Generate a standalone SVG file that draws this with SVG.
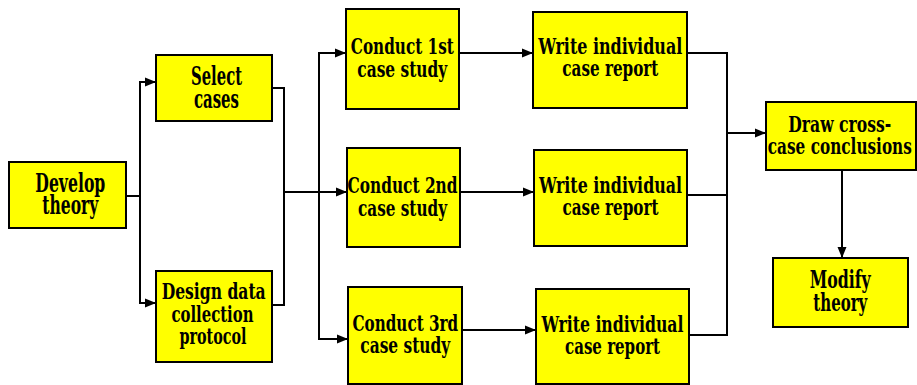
<svg xmlns="http://www.w3.org/2000/svg" width="917" height="385" viewBox="0 0 917 385">
<style>
.box{fill:#ffff00;stroke:#000;stroke-width:2}
.t{font-family:"DejaVu Serif Condensed","DejaVu Serif","Liberation Serif",serif;font-weight:bold;font-stretch:condensed;font-size:23px;fill:#000;text-anchor:middle}
.big{font-size:26px}
.c{fill:none;stroke:#000;stroke-width:2}
</style>
<defs>
<marker id="ah" markerUnits="userSpaceOnUse" markerWidth="11" markerHeight="10" refX="11" refY="5" orient="auto">
<path d="M0,0.5 L11,5 L0,9.5 Z" fill="#000"/>
</marker>
</defs>
<rect width="917" height="385" fill="#fff"/>
<g id="connectors">
<path class="c" d="M126,196 H140 V82 H156" marker-end="url(#ah)"/>
<path class="c" d="M140,196 V303 H156" marker-end="url(#ah)"/>
<path class="c" d="M272,88 H284 V305 H272"/>
<path class="c" d="M284,192 H347" marker-end="url(#ah)"/>
<path class="c" d="M319,192 V53 H346" marker-end="url(#ah)"/>
<path class="c" d="M319,192 V339 H348" marker-end="url(#ah)"/>
<path class="c" d="M459,53 H533" marker-end="url(#ah)"/>
<path class="c" d="M460,192 H534" marker-end="url(#ah)"/>
<path class="c" d="M462,330 H536" marker-end="url(#ah)"/>
<path class="c" d="M687,53 H727 V335 H689"/>
<path class="c" d="M687,195 H727"/>
<path class="c" d="M727,133 H766" marker-end="url(#ah)"/>
<path class="c" d="M842,170 V258" marker-end="url(#ah)"/>
</g>
<g id="develop">
<rect class="box" x="9" y="162" width="117" height="66"/>
<text class="t big" transform="translate(70.3,0) scale(0.75,1)"><tspan x="0" y="192" textLength="93.3" lengthAdjust="spacingAndGlyphs">Develop</tspan><tspan x="0" y="214" textLength="74.7" lengthAdjust="spacingAndGlyphs">theory</tspan></text>
</g>
<g id="select">
<rect class="box" x="156" y="55" width="116" height="66"/>
<text class="t big" transform="translate(216.5,0) scale(0.75,1)"><tspan x="0" y="85" textLength="68" lengthAdjust="spacingAndGlyphs">Select</tspan><tspan x="0" y="108" textLength="60" lengthAdjust="spacingAndGlyphs">cases</tspan></text>
</g>
<g id="design">
<rect class="box" x="156" y="271" width="116" height="91"/>
<text class="t" transform="translate(213,0) scale(0.75,1)"><tspan x="0.9" y="299" textLength="138.7" lengthAdjust="spacingAndGlyphs">Design data</tspan><tspan x="-0.7" y="322" textLength="109.3" lengthAdjust="spacingAndGlyphs">collection</tspan><tspan x="0" y="344" textLength="89.3" lengthAdjust="spacingAndGlyphs">protocol</tspan></text>
</g>
<g id="conduct1">
<rect class="box" x="346" y="9" width="113" height="100"/>
<text class="t" transform="translate(402.3,0) scale(0.75,1)"><tspan x="0" y="54" textLength="137.3" lengthAdjust="spacingAndGlyphs">Conduct 1st</tspan><tspan x="0" y="77" textLength="120" lengthAdjust="spacingAndGlyphs">case study</tspan></text>
</g>
<g id="conduct2">
<rect class="box" x="347" y="148" width="113" height="99"/>
<text class="t" transform="translate(402.5,0) scale(0.75,1)"><tspan x="0" y="193" textLength="146.7" lengthAdjust="spacingAndGlyphs">Conduct 2nd</tspan><tspan x="0" y="216" textLength="118.7" lengthAdjust="spacingAndGlyphs">case study</tspan></text>
</g>
<g id="conduct3">
<rect class="box" x="348" y="287" width="114" height="97"/>
<text class="t" transform="translate(405.3,0) scale(0.75,1)"><tspan x="0" y="331" textLength="140.8" lengthAdjust="spacingAndGlyphs">Conduct 3rd</tspan><tspan x="0" y="353" textLength="120" lengthAdjust="spacingAndGlyphs">case study</tspan></text>
</g>
<g id="write1">
<rect class="box" x="533" y="12" width="154" height="96"/>
<text class="t" transform="translate(610.3,0) scale(0.75,1)"><tspan x="0" y="54" textLength="192" lengthAdjust="spacingAndGlyphs">Write individual</tspan><tspan x="0" y="76" textLength="128" lengthAdjust="spacingAndGlyphs">case report</tspan></text>
</g>
<g id="write2">
<rect class="box" x="534" y="150" width="153" height="96"/>
<text class="t" transform="translate(610.5,0) scale(0.75,1)"><tspan x="0" y="193" textLength="190.7" lengthAdjust="spacingAndGlyphs">Write individual</tspan><tspan x="0" y="215" textLength="128" lengthAdjust="spacingAndGlyphs">case report</tspan></text>
</g>
<g id="write3">
<rect class="box" x="536" y="289" width="153" height="95"/>
<text class="t" transform="translate(612.5,0) scale(0.75,1)"><tspan x="0" y="332" textLength="189.3" lengthAdjust="spacingAndGlyphs">Write individual</tspan><tspan x="0" y="354" textLength="126.7" lengthAdjust="spacingAndGlyphs">case report</tspan></text>
</g>
<g id="draw">
<rect class="box" x="766" y="102" width="150" height="68"/>
<text class="t" transform="translate(839.8,0) scale(0.75,1)"><tspan x="0" y="132" textLength="137.3" lengthAdjust="spacingAndGlyphs">Draw cross-</tspan><tspan x="0" y="154" textLength="192" lengthAdjust="spacingAndGlyphs">case conclusions</tspan></text>
</g>
<g id="modify">
<rect class="box" x="773" y="258" width="135" height="69"/>
<text class="t" style="font-size:25px" transform="translate(840.3,0) scale(0.75,1)"><tspan x="0" y="288" textLength="81.3" lengthAdjust="spacingAndGlyphs">Modify</tspan><tspan x="0" y="311" textLength="72" lengthAdjust="spacingAndGlyphs">theory</tspan></text>
</g>
</svg>
